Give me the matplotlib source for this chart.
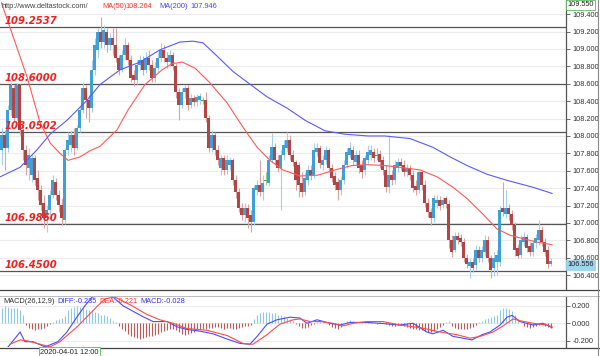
import matplotlib
matplotlib.use("Agg")
import matplotlib.pyplot as plt
from matplotlib.lines import Line2D
import numpy as np

# ---- candles (USD/JPY style) ----
opens = [107.84, 108.01, 107.86, 108.30, 108.55, 108.21, 108.59, 108.07, 107.84, 107.63,
         107.55, 107.75, 107.52, 107.38, 107.23, 107.06, 107.15, 107.32, 107.47, 107.32,
         107.21, 107.03, 107.84, 107.90, 108.01, 107.86, 108.09, 108.30, 108.55, 108.41,
         108.32, 108.76, 108.99, 109.20, 109.08, 109.20, 109.05, 109.13, 109.05, 108.90,
         108.76, 108.93, 109.05, 108.87, 108.70, 108.64, 108.82, 108.87, 108.76, 108.90,
         108.82, 108.67, 108.78, 108.90, 108.99, 108.90, 108.85, 108.93, 108.80, 108.51,
         108.36, 108.51, 108.55, 108.36, 108.44, 108.39, 108.41, 108.41, 108.41, 108.21,
         107.86, 108.01, 107.84, 107.63, 107.75, 107.61, 107.67, 107.72, 107.49, 107.36,
         107.17, 107.09, 107.17, 107.09, 107.01, 107.38, 107.44, 107.36, 107.49, 107.46,
         107.72, 107.87, 107.72, 107.63, 107.78, 107.86, 107.95, 107.78, 107.70, 107.67,
         107.46, 107.36, 107.49, 107.61, 107.55, 107.82, 107.86, 107.67, 107.72, 107.84,
         107.63, 107.54, 107.47, 107.38, 107.49, 107.67, 107.78, 107.84, 107.70, 107.78,
         107.67, 107.61, 107.72, 107.78, 107.82, 107.78, 107.79, 107.72, 107.61, 107.41,
         107.55, 107.49, 107.63, 107.70, 107.67, 107.59, 107.63, 107.55, 107.43, 107.38,
         107.59, 107.44, 107.23, 107.13, 107.06, 107.23, 107.26, 107.21, 107.29, 107.22,
         106.80, 106.69, 106.85, 106.83, 106.78, 106.60, 106.51, 106.55, 106.52, 106.69,
         106.60, 106.67, 106.80, 106.60, 106.48, 106.55, 106.55, 107.17, 107.10, 107.17,
         107.10, 106.98, 106.71, 106.63, 106.78, 106.84, 106.74, 106.67, 106.77, 106.80,
         106.92, 106.78, 106.69, 106.53]
highs = [108.09, 108.07, 108.36, 108.62, 108.59, 108.61, 108.60, 108.13, 107.90, 107.86,
         107.78, 107.78, 107.61, 107.44, 107.32, 107.21, 107.38, 107.55, 107.52, 107.38,
         107.29, 107.86, 108.05, 108.07, 108.09, 108.13, 108.36, 108.62, 108.59, 108.47,
         108.87, 109.13, 109.24, 109.37, 109.28, 109.24, 109.18, 109.24, 109.24, 108.93,
         108.99, 109.13, 109.08, 108.93, 108.76, 108.87, 108.93, 108.92, 108.97, 108.99,
         108.87, 108.85, 108.97, 109.07, 109.05, 108.97, 108.99, 108.97, 108.84, 108.55,
         108.55, 108.59, 108.59, 108.48, 108.47, 108.48, 108.49, 108.45, 108.51, 108.24,
         108.07, 108.05, 107.90, 107.78, 107.78, 107.78, 107.76, 107.75, 107.55, 107.40,
         107.23, 107.23, 107.22, 107.15, 107.44, 107.49, 107.72, 107.55, 107.59, 107.78,
         108.03, 107.92, 107.78, 107.84, 107.95, 108.05, 108.01, 107.84, 107.72, 107.70,
         107.59, 107.59, 107.67, 107.67, 107.92, 107.92, 107.90, 107.78, 107.88, 107.86,
         107.68, 107.59, 107.52, 107.54, 107.72, 107.86, 107.93, 107.88, 107.84, 107.84,
         107.72, 107.78, 107.90, 107.90, 107.86, 107.86, 107.84, 107.77, 107.67, 108.01,
         107.61, 107.72, 107.75, 107.75, 107.72, 107.68, 107.67, 107.61, 107.49, 107.61,
         107.61, 107.49, 107.29, 107.17, 107.32, 107.32, 107.31, 107.30, 107.31, 107.26,
         106.86, 106.90, 106.90, 106.87, 106.83, 106.64, 106.60, 106.60, 106.75, 106.74,
         106.74, 106.86, 106.85, 106.63, 106.67, 106.69, 107.20, 107.47, 107.38, 107.22,
         107.15, 107.01, 106.76, 106.86, 106.90, 106.87, 106.78, 106.80, 106.87, 107.03,
         106.97, 106.83, 106.74, 106.60]
lows = [107.67, 107.61, 107.82, 108.24, 108.16, 108.18, 108.01, 107.72, 107.55, 107.49,
        107.47, 107.44, 107.26, 107.15, 106.94, 106.90, 107.09, 107.29, 107.26, 107.13,
        106.98, 106.99, 107.78, 107.82, 107.78, 107.84, 108.05, 108.26, 108.21, 108.16,
        108.28, 108.70, 108.90, 109.01, 109.01, 108.97, 108.99, 108.93, 108.85, 108.70,
        108.74, 108.87, 108.82, 108.62, 108.57, 108.60, 108.76, 108.70, 108.72, 108.76,
        108.62, 108.62, 108.74, 108.85, 108.85, 108.78, 108.80, 108.76, 108.44, 108.18,
        108.32, 108.44, 108.30, 108.32, 108.35, 108.35, 108.37, 108.37, 108.16, 107.82,
        107.82, 107.78, 107.67, 107.55, 107.55, 107.56, 107.61, 107.44, 107.29, 107.13,
        107.03, 107.01, 106.94, 106.90, 106.98, 107.32, 107.31, 107.26, 107.44, 107.43,
        107.69, 107.67, 107.59, 107.15, 107.72, 107.82, 107.72, 107.66, 107.38, 107.30,
        107.30, 107.32, 107.44, 107.49, 107.52, 107.77, 107.63, 107.61, 107.68, 107.59,
        107.47, 107.38, 107.26, 107.32, 107.45, 107.63, 107.75, 107.67, 107.67, 107.57,
        107.52, 107.55, 107.68, 107.72, 107.70, 107.72, 107.63, 107.55, 107.36, 107.34,
        107.44, 107.45, 107.59, 107.61, 107.54, 107.54, 107.49, 107.36, 107.32, 107.34,
        107.38, 107.18, 107.07, 106.98, 107.01, 107.17, 107.15, 107.17, 107.17, 106.71,
        106.61, 106.67, 106.76, 106.74, 106.55, 106.48, 106.37, 106.44, 106.46, 106.55,
        106.55, 106.62, 106.55, 106.37, 106.39, 106.40, 106.51, 107.08, 107.06, 107.03,
        106.92, 106.62, 106.60, 106.60, 106.74, 106.67, 106.62, 106.62, 106.71, 106.75,
        106.74, 106.62, 106.48, 106.51]
closes = [108.01, 107.86, 108.30, 108.59, 108.21, 108.59, 108.07, 107.84, 107.67, 107.78,
          107.75, 107.49, 107.38, 107.21, 107.06, 107.15, 107.32, 107.49, 107.32, 107.21,
          107.06, 107.84, 107.95, 108.01, 107.86, 108.09, 108.30, 108.55, 108.41, 108.32,
          108.76, 109.05, 109.20, 109.08, 109.22, 109.05, 109.13, 109.05, 108.90, 108.76,
          108.93, 109.05, 108.87, 108.67, 108.64, 108.82, 108.87, 108.76, 108.90, 108.82,
          108.67, 108.78, 108.90, 108.99, 108.90, 108.85, 108.93, 108.80, 108.51, 108.36,
          108.51, 108.55, 108.36, 108.44, 108.39, 108.45, 108.46, 108.41, 108.21, 107.86,
          108.01, 107.84, 107.72, 107.75, 107.61, 107.72, 107.72, 107.49, 107.36, 107.17,
          107.09, 107.17, 107.06, 107.01, 107.40, 107.44, 107.36, 107.46, 107.49, 107.72,
          107.87, 107.72, 107.63, 107.78, 107.90, 107.95, 107.78, 107.70, 107.49, 107.44,
          107.36, 107.52, 107.61, 107.55, 107.84, 107.86, 107.69, 107.72, 107.84, 107.63,
          107.52, 107.44, 107.38, 107.49, 107.67, 107.82, 107.86, 107.72, 107.78, 107.63,
          107.59, 107.75, 107.82, 107.84, 107.75, 107.78, 107.70, 107.61, 107.41, 107.55,
          107.49, 107.67, 107.70, 107.66, 107.59, 107.63, 107.55, 107.40, 107.38, 107.59,
          107.44, 107.23, 107.13, 107.06, 107.29, 107.26, 107.20, 107.26, 107.22, 106.80,
          106.67, 106.85, 106.80, 106.78, 106.60, 106.53, 106.55, 106.48, 106.69, 106.60,
          106.69, 106.80, 106.60, 106.46, 106.60, 106.63, 107.15, 107.13, 107.17, 107.10,
          106.98, 106.69, 106.62, 106.80, 106.84, 106.71, 106.67, 106.77, 106.83, 106.92,
          106.78, 106.67, 106.53, 106.56]

# moving averages, sampled along the drawn lines (candle index, price)
ma50_idx = [0, 8.5, 12.8, 16.2, 19.5, 22.2, 26.2, 29.5, 32.8, 38.5, 42.2, 47.8, 53.5, 56.8,
            60.2, 64.5, 69.5, 75.2, 80.5, 85.2, 89.5, 93.8, 99.5, 105.5, 111.2, 116.8, 122.2,
            127.8, 132.8, 139.5, 145.2, 150.5, 155.2, 160.5, 165.2, 169.5, 173.8, 178.5, 183.5]
ma50_val = [109.53, 108.68, 108.16, 107.92, 107.80, 107.72, 107.76, 107.83, 107.88, 108.07,
            108.30, 108.59, 108.76, 108.83, 108.85, 108.78, 108.61, 108.38, 108.10, 107.87,
            107.72, 107.61, 107.54, 107.55, 107.61, 107.66, 107.67, 107.66, 107.64, 107.61,
            107.53, 107.41, 107.28, 107.10, 106.93, 106.86, 106.82, 106.78, 106.75]
ma200_idx = [-0.5, 6.2, 11.8, 16.2, 21.8, 28.5, 32.8, 39.5, 46.2, 52.8, 59.5, 63.8, 67.2,
             71.8, 77.2, 83.8, 88.5, 95.2, 101.2, 107.8, 114.5, 122.2, 127.8, 136.2, 143.8,
             149.5, 155.2, 161.8, 168.5, 177.2, 183.5]
ma200_val = [107.53, 107.64, 107.84, 108.02, 108.18, 108.41, 108.59, 108.76, 108.85, 108.99,
             109.08, 109.09, 109.07, 108.92, 108.74, 108.57, 108.45, 108.32, 108.18, 108.06,
             108.02, 108.00, 108.00, 107.97, 107.87, 107.76, 107.66, 107.56, 107.49, 107.41,
             107.34]

levels = [109.2537, 108.6000, 108.0502, 106.9860, 106.4500]
price_ticks = [106.4, 106.6, 106.8, 107.0, 107.2, 107.4, 107.6, 107.8, 108.0, 108.2,
               108.4, 108.6, 108.8, 109.0, 109.2, 109.4]

# ---- MACD panel ----
macd_hist = [0.18, 0.20, 0.19, 0.17, 0.17, 0.18, 0.15, 0.10,
             -0.02, -0.05, -0.07, -0.08, -0.07, -0.06,
             -0.05, -0.03, -0.01, 0.01,
             0.04, 0.05, 0.06, 0.08,
             0.15, 0.18, 0.19, 0.20, 0.19, 0.18, 0.16, 0.15,
             0.14, 0.13, 0.12, 0.10, 0.09, 0.08, 0.06,
             0.03, 0.01,
             -0.03, -0.06, -0.09, -0.12, -0.14, -0.16, -0.17, -0.18, -0.17, -0.16,
             -0.15, -0.14, -0.13, -0.12, -0.10, -0.09, -0.08, -0.07, -0.06,
             -0.08, -0.10, -0.12, -0.13, -0.12, -0.11, -0.10,
             -0.08, -0.07, -0.06, -0.06, -0.05, -0.05, -0.04, -0.04, -0.05, -0.06,
             -0.05, -0.05, -0.06, -0.06, -0.05, -0.04, -0.03, -0.03, -0.02,
             0.05, 0.10, 0.12, 0.13, 0.13, 0.13, 0.12, 0.12, 0.10, 0.09, 0.08, 0.06, 0.05, 0.03,
             -0.01, -0.03, -0.05, -0.05, -0.04, -0.02, -0.01,
             0.01, 0.02, 0.01, 0.00, -0.02, -0.04, -0.05, -0.06,
             -0.04, 0.00, 0.03, 0.04, 0.03, 0.02,
             0.01, 0.02, 0.03, 0.02, 0.01, 0.00, -0.01, 0.01, 0.02, -0.01,
             -0.02, -0.03, -0.03, -0.02, -0.02, -0.03,
             -0.04, -0.05, -0.06, -0.07, -0.08, -0.08, -0.09, -0.10, -0.10, -0.09, -0.07, -0.04, -0.02,
             0.02, 0.03,
             -0.03, -0.05, -0.06, -0.07, -0.07, -0.06, -0.05, -0.04, -0.02,
             0.02, 0.03, 0.05, 0.06, 0.07, 0.08, 0.10,
             0.15, 0.17, 0.17, 0.16, 0.14, 0.10,
             0.05, 0.00,
             -0.03, -0.04, -0.05, -0.04, -0.03, -0.02, -0.01, -0.03, -0.04, -0.05]
diff_idx = [-0.5, 2.2, 6.2, 7.8, 10.5, 14.5, 18.8, 21.8, 25.2, 27.8, 30.2, 36.2, 40.5, 47.2,
            50.5, 55.2, 58.5, 61.8, 66.2, 70.5, 75.2, 79.5, 82.8, 85.2, 88.5, 91.8, 96.2,
            99.5, 101.8, 105.2, 109.5, 112.8, 116.2, 121.8, 126.2, 132.8, 137.2, 141.8, 143.8,
            147.2, 150.5, 153.8, 156.8, 160.2, 162.8, 166.2, 168.5, 170.2, 172.8, 177.2,
            180.5, 183.5]
diff_val = [-0.33, -0.27, -0.10, -0.21, -0.21, -0.27, -0.21, -0.10, 0.075, 0.20, 0.30, 0.33,
            0.20, 0.075, 0.02, 0.02, -0.04, -0.07, -0.09, -0.12, -0.18, -0.23, -0.24, -0.15,
            -0.01, 0.04, 0.07, 0.06, 0.00, 0.04, 0.00, -0.02, 0.01, 0.01, 0.00, -0.02, 0.00,
            -0.10, -0.12, -0.08, -0.15, -0.17, -0.19, -0.13, -0.10, -0.02, 0.07, 0.09, 0.02,
            -0.02, 0.00, -0.05]
dea_idx = [2.8, 6.2, 8.5, 15.2, 16.2, 19.5, 25.2, 29.5, 31.8, 34.5, 37.8, 43.5, 48.5, 52.8,
           57.2, 61.8, 68.5, 75.2, 80.5, 83.8, 88.5, 92.8, 97.2, 99.5, 102.8, 106.2, 110.5,
           113.8, 117.2, 121.8, 127.2, 132.8, 139.5, 146.2, 151.8, 156.2, 159.5, 163.8, 167.2,
           170.5, 172.8, 177.2, 181.8, 183.5]
dea_val = [-0.24, -0.19, -0.20, -0.26, -0.27, -0.21, -0.04, 0.11, 0.19, 0.28, 0.30, 0.20,
           0.10, 0.04, 0.00, -0.06, -0.08, -0.14, -0.23, -0.24, -0.13, -0.01, 0.04, 0.05,
           0.02, 0.02, 0.00, -0.03, 0.00, 0.02, 0.02, -0.02, -0.05, -0.10, -0.13, -0.17,
           -0.15, -0.10, -0.03, 0.05, 0.03, 0.00, -0.02, -0.04]
macd_ticks = [-0.2, 0.0, 0.2]

W, H = 600, 356
fig = plt.figure(figsize=(W / 100, H / 100), dpi=100)
fig.patch.set_facecolor("white")
small = {"family": "Liberation Sans", "size": 5.3}

def fx(px):
    return px / W

def fy(py):
    return 1 - py / H

# main price panel
ax = fig.add_axes([0, fy(289), fx(566), 289 / H])
n = len(closes)
idx = np.arange(n)
o = np.array(opens); c = np.array(closes); hi = np.array(highs); lo = np.array(lows)
up = c > o
dn = c < o
dj = c == o
ax.vlines(idx[up], lo[up], hi[up], color="#a3d0ec", lw=0.8, zorder=3)
ax.vlines(idx[dn], lo[dn], hi[dn], color="#dca3a3", lw=0.8, zorder=3)
ax.vlines(idx[dj], lo[dj], hi[dj], color="#8fd08f", lw=0.8, zorder=3)
ax.bar(idx[up], (c - o)[up], bottom=o[up], width=0.75, color="#3f9fd8", lw=0, zorder=4)
ax.bar(idx[dn], (o - c)[dn], bottom=c[dn], width=0.75, color="#b34545", lw=0, zorder=4)
ax.bar(idx[dj], 0.012, bottom=o[dj] - 0.006, width=0.75, color="#4caf50", lw=0, zorder=4)

ax.plot(ma50_idx, ma50_val, color="#ff5a5a", lw=0.8, zorder=5)
ax.plot(ma200_idx, ma200_val, color="#5a5aff", lw=0.8, zorder=5)

for lv in levels:
    ax.axhline(lv, color="#555555", lw=0.9, zorder=2)
    ax.text(1, lv + 0.012, "%.4f" % lv, color="#ee2222", fontsize=7.2,
            fontweight="bold", style="italic", family="DejaVu Sans",
            va="bottom", ha="left", zorder=6)

ax.set_xlim(-0.5, (566 - 1.5) / 3)
ax.set_ylim(106.241, 109.563)
ax.set_yticks(price_ticks)
ax.set_yticklabels(["%.3f" % t for t in price_ticks], fontdict=small, color="#333333")
ax.yaxis.tick_right()
ax.tick_params(axis="y", length=3, width=0.6, color="#555555", pad=1.5)
ax.set_xticks([])
ax.grid(axis="y", color="#ececec", lw=0.8, zorder=0)
for s in ["left", "top", "bottom"]:
    ax.spines[s].set_visible(False)
ax.spines["right"].set_color("#555555")
ax.spines["right"].set_linewidth(0.9)

# MACD panel
mx = fig.add_axes([0, fy(347), fx(566), (347 - 296) / H])
mh = np.array(macd_hist)
pos = mh >= 0
mx.vlines(idx[pos], 0, mh[pos], color="#8ec8e8", lw=0.8)
mx.vlines(idx[~pos], 0, mh[~pos], color="#c05a5a", lw=0.8)
mx.plot(diff_idx, diff_val, color="#4b4bff", lw=0.8)
mx.plot(dea_idx, dea_val, color="#ff4b4b", lw=0.8)
mx.set_xlim(-0.5, (566 - 1.5) / 3)
mx.set_ylim(-0.271, 0.312)
mx.set_yticks(macd_ticks)
mx.set_yticklabels(["%.3f" % t for t in macd_ticks], fontdict=small, color="#333333")
mx.yaxis.tick_right()
mx.tick_params(axis="y", length=3, width=0.6, color="#555555", pad=1.5)
mx.set_xticks([])
mx.grid(axis="y", color="#ececec", lw=0.8, zorder=0)
for s in ["left", "top", "bottom"]:
    mx.spines[s].set_visible(False)
mx.spines["right"].set_color("#555555")
mx.spines["right"].set_linewidth(0.9)

# separators and frame
fig.add_artist(Line2D([0, 1], [fy(289.5), fy(289.5)], color="#444444", lw=0.9))
fig.add_artist(Line2D([0, 1], [fy(296), fy(296)], color="#bbbbbb", lw=0.7))
fig.add_artist(Line2D([0, 1], [fy(347.5), fy(347.5)], color="#444444", lw=0.9))
fig.add_artist(Line2D([fx(597.5), fx(597.5)], [0, 1], color="#888888", lw=0.8))

# header texts
fig.text(fx(2), fy(6), "http://www.deltastock.com/", color="#444444", va="center", **small)
fig.text(fx(102), fy(6), "MA(50)", color="#ff3333", va="center", **small)
fig.text(fx(125), fy(6), "108.264", color="#ff3333", va="center", **small)
fig.text(fx(159), fy(6), "MA(200)", color="#4444ff", va="center", **small)
fig.text(fx(190), fy(6), "107.946", color="#4444ff", va="center", **small)
fig.text(fx(567), fy(5), "109.550", color="#222222", va="center", ha="left",
         bbox=dict(boxstyle="square,pad=0.15", fc="white", ec="#5cb85c", lw=0.6), **small)
fig.text(fx(567), fy(265), "106.556", color="#222222", va="center", ha="left",
         bbox=dict(boxstyle="square,pad=0.15", fc="#9fd4f0", ec="#9fd4f0", lw=0.6), **small)

fig.text(fx(3), fy(301.5), "MACD(26,12,9)", color="#333333", va="center", **small)
fig.text(fx(57), fy(301.5), "DIFF:-0.235", color="#3333ff", va="center", **small)
fig.text(fx(99), fy(301.5), "DEA:-0.221", color="#ff3333", va="center", **small)
fig.text(fx(140), fy(301.5), "MACD:-0.028", color="#3333ff", va="center", **small)

fig.text(fx(40), fy(352), "2020-04-01 12:00", color="#222222", va="center",
         bbox=dict(boxstyle="square,pad=0.2", fc="white", ec="#5cb85c", lw=0.6), **small)

fig.savefig("out.png", dpi=100)
